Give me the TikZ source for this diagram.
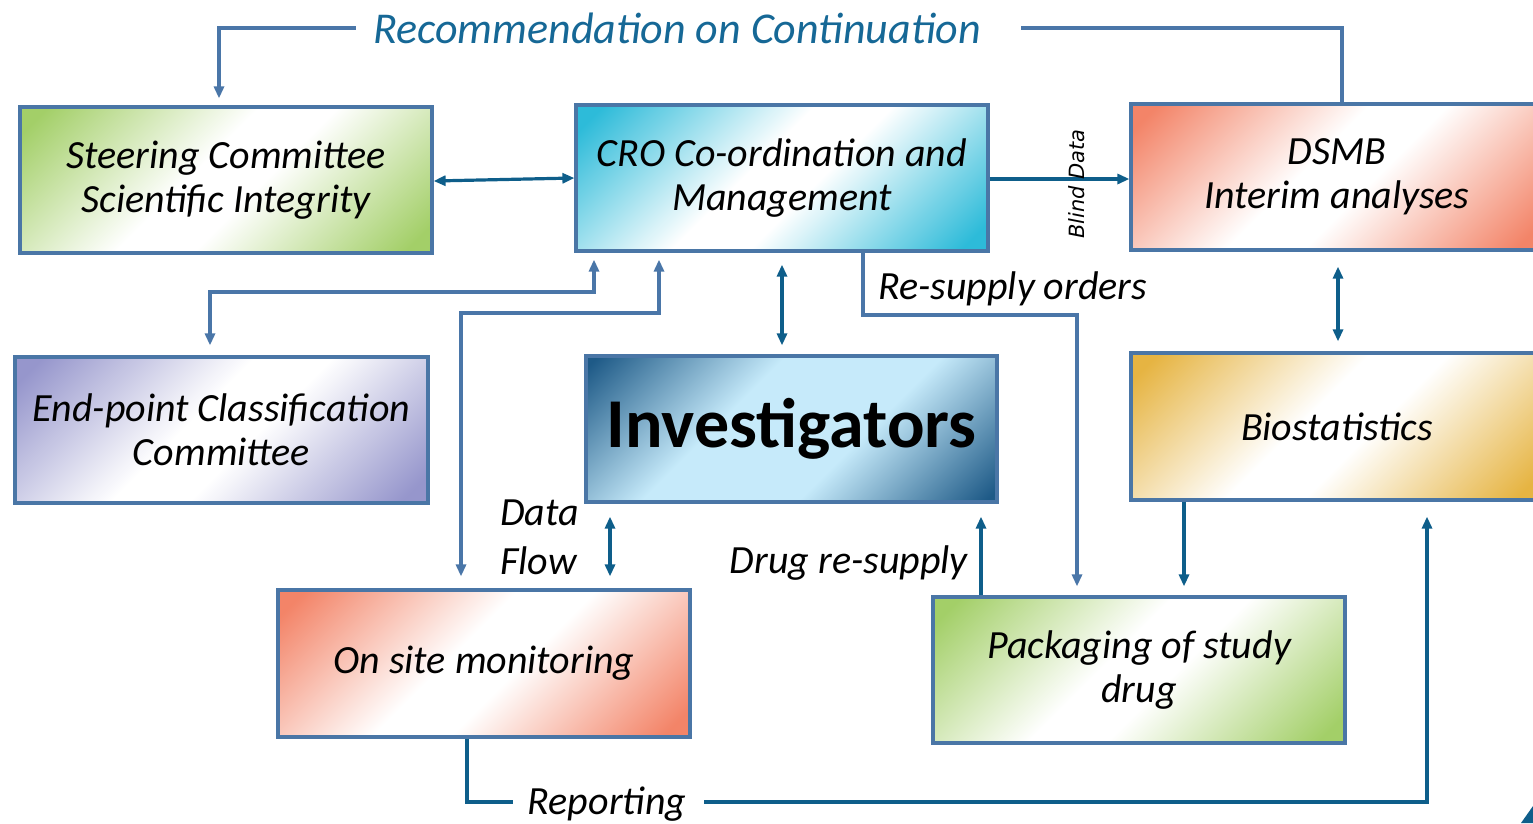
\documentclass[tikz,border=0pt]{standalone}
\usepackage{fontspec}
\setmainfont{Carlito}
\newfontfamily\dejavu{DejaVu Sans}
\usetikzlibrary{arrows.meta}
\definecolor{bord}{RGB}{74,118,166}
\definecolor{dteal}{RGB}{14,94,138}
\definecolor{sblue}{RGB}{74,118,168}
\definecolor{recc}{RGB}{22,104,150}
\definecolor{cgreen}{RGB}{163,207,104}
\definecolor{ccyan}{RGB}{45,187,217}
\definecolor{csalmon}{RGB}{243,132,104}
\definecolor{cpurple}{RGB}{150,150,204}
\definecolor{cgold}{RGB}{230,180,66}
\definecolor{cdblue}{RGB}{30,90,135}
\definecolor{clblue}{RGB}{198,234,250}
\pgfdeclareverticalshading{shgreen}{100bp}{color(0bp)=(cgreen); color(18bp)=(cgreen); color(45bp)=(white); color(55bp)=(white); color(82bp)=(cgreen); color(100bp)=(cgreen)}
\pgfdeclareverticalshading{shcyan}{100bp}{color(0bp)=(ccyan); color(18bp)=(ccyan); color(45bp)=(white); color(55bp)=(white); color(82bp)=(ccyan); color(100bp)=(ccyan)}
\pgfdeclareverticalshading{shsalmon}{100bp}{color(0bp)=(csalmon); color(18bp)=(csalmon); color(45bp)=(white); color(55bp)=(white); color(82bp)=(csalmon); color(100bp)=(csalmon)}
\pgfdeclareverticalshading{shpurple}{100bp}{color(0bp)=(cpurple); color(18bp)=(cpurple); color(45bp)=(white); color(55bp)=(white); color(82bp)=(cpurple); color(100bp)=(cpurple)}
\pgfdeclareverticalshading{shgold}{100bp}{color(0bp)=(cgold); color(18bp)=(cgold); color(45bp)=(white); color(55bp)=(white); color(82bp)=(cgold); color(100bp)=(cgold)}
\pgfdeclareverticalshading{shinv}{100bp}{color(0bp)=(cdblue); color(16bp)=(cdblue); color(40bp)=(clblue); color(60bp)=(clblue); color(84bp)=(cdblue); color(100bp)=(cdblue)}
\tikzset{
  box/.style={draw=bord, line width=3.2pt, shade, shading angle=45, minimum width=412pt, minimum height=146pt, inner sep=0pt, align=center, font=\fontsize{40}{44}\selectfont\itshape},
  ln/.style={line width=3.2pt, draw=sblue},
  lnd/.style={line width=3.2pt, draw=dteal},
  lab/.style={font=\fontsize{40}{44}\selectfont\itshape, inner sep=0pt},
  >={Triangle[length=12pt,width=10pt]}
}
\begin{document}
\begin{tikzpicture}[x=1pt,y=-1pt]
\useasboundingbox (0,0) rectangle (1533,823);
\clip (0,0) rectangle (1533,823);
% boxes
\node[box, shading=shgreen, shading angle=45] (steer) at (226,180) {Steering Committee\\Scientific Integrity};
\node[box, shading=shcyan, shading angle=45] (cro) at (782,178) {CRO Co-ordination and\\Management};
\node[box, shading=shsalmon, shading angle=45] (dsmb) at (1337,177) {DSMB\\Interim analyses};
\node[box, shading=shpurple, shading angle=45, minimum width=413pt] (endp) at (221.5,430) {End-point Classification\\Committee};
\node[box, shading=shinv, shading angle=45, minimum width=411pt, font=\fontsize{70}{80}\selectfont\bfseries] (inv) at (791.5,429) {Investigators};
\node[box, shading=shgold, shading angle=45, minimum height=147pt] (bio) at (1337,426.5) {Biostatistics};
\node[box, shading=shsalmon, shading angle=45, minimum height=147pt] (onsite) at (484,663.5) {On site monitoring};
\node[box, shading=shgreen, shading angle=45] (pack) at (1139,670) {Packaging of study\\drug};
% recommendation
\node[lab, text=recc, font=\fontsize{44}{48}\selectfont\itshape] (rec) at (677,28) {Recommendation on Continuation};
\draw[ln] ([xshift=5pt]dsmb.north) |- ([xshift=40pt]rec.east);
\draw[ln,->,shorten >=7pt] ([xshift=-17pt]rec.west) -| ([xshift=-7pt]steer.north);
% steering <-> cro
\draw[lnd,<->] ([yshift=-1pt]steer.east) -- (cro.west);
% blind data
\draw[lnd,->] ([yshift=-1pt]cro.east) -- ([yshift=-2pt]dsmb.west);
\node[font=\dejavu\fontsize{21}{24}\selectfont\itshape, rotate=90, inner sep=0pt] (bd) at (1077,184) {Blind Data};
% cro <-> investigators
\draw[lnd,<->,shorten <=12pt,shorten >=9pt] (cro.south) -- (cro.south |- inv.north);
% re-supply orders
\coordinate (ro) at (1077,315);
\draw[ln,->,shorten >=9pt] ([xshift=81pt]cro.south) |- (ro) -- (ro |- pack.north);
\node[lab, anchor=west] (rso) at (878,289) {Re-supply orders};
% end-point path
\coordinate (ep) at (210,292);
\draw[ln,<->,shorten <=7pt,shorten >=10pt] ([xshift=-188pt]cro.south) |- (ep) -- (ep |- endp.north);
% on site path
\coordinate (os) at (461,313);
\draw[ln,<->,shorten <=7pt,shorten >=12pt] ([xshift=-123pt]cro.south) |- (os) -- (os |- onsite.north);
% data flow
\coordinate (df) at (610,0);
\draw[lnd,<->,shorten <=13pt,shorten >=12pt] (df |- inv.south) -- (df |- onsite.north);
\node[lab, anchor=west] (dfa) at (500,513) {Data};
\node[lab, anchor=west] (dfb) at (500,561) {Flow};
% drug re-supply
\coordinate (dr) at (981,0);
\draw[lnd,->,shorten >=13pt] (dr |- pack.north) -- (dr |- inv.south);
\node[lab, anchor=east] (drs) at (968,563) {Drug re-supply};
% bio -> pack
\coordinate (bp) at (1184,0);
\draw[lnd,->,shorten >=9pt] (bp |- bio.south) -- (bp |- pack.north);
% dsmb <-> bio
\coordinate (db) at (1338,0);
\draw[lnd,<->,shorten <=15pt,shorten >=10pt] (db |- dsmb.south) -- (db |- bio.north);
% reporting
\node[lab] (rep) at (607,804) {Reporting};
\coordinate (rp) at (1427,0);
\draw[lnd] ([xshift=-17pt]onsite.south) |- ([xshift=-15pt,yshift=2pt]rep.west);
\draw[lnd,->,shorten >=15pt] ([xshift=18pt,yshift=2pt]rep.east) -| (rp |- bio.south);
% corner fragment
\fill[dteal] (1521,823) -- (1533,806) -- (1533,823) -- cycle;
\end{tikzpicture}
\end{document}
